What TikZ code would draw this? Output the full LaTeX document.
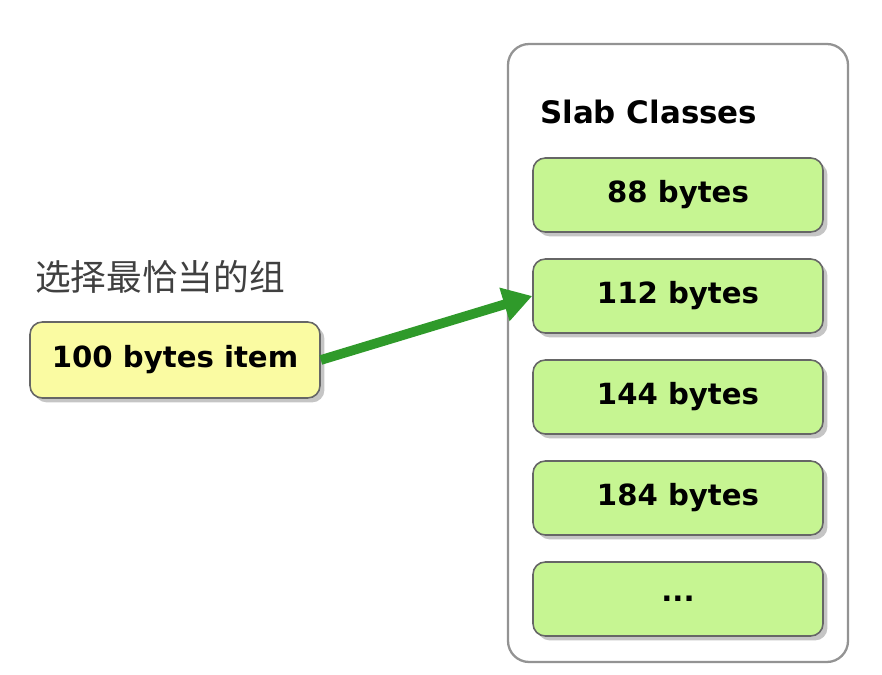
\documentclass[tikz,border=0pt]{standalone}
\usepackage{fontspec}
\setmainfont{DejaVu Sans}
\newfontfamily\cjk{Noto Sans CJK SC}
\usetikzlibrary{shadows,arrows.meta}
\definecolor{slabgreen}{HTML}{C6F592}
\definecolor{itemyellow}{HTML}{FAFBA2}
\definecolor{arrowgreen}{HTML}{2F9A2A}
\tikzset{
  slab/.style={draw=black!60, line width=0.9pt, rounded corners=7pt,
    fill=slabgreen, minimum width=5.8cm, minimum height=1.48cm,
    drop shadow={shadow xshift=2.5pt, shadow yshift=-2.5pt, fill=black!45},
    font=\fontsize{16.6}{20}\selectfont\bfseries},
  item/.style={slab, fill=itemyellow, minimum height=1.52cm}
}
\begin{document}
\begin{tikzpicture}[line join=round]
  \useasboundingbox (0,0) rectangle (17.64,13.48);
  % la caja de las clases
  \draw[gray!85, line width=1.3pt, rounded corners=12pt, fill=white] (10.16,0.24) rectangle (16.96,12.6);
  \node[anchor=west, font=\fontsize{17.6}{21}\selectfont\bfseries] (title) at (10.68,11.24) {Slab Classes};
  % las clases
  \foreach \nm/\txt/\y in {s88/88 bytes/9.58, s112/112 bytes/7.56, s144/144 bytes/5.54,
      s184/184 bytes/3.52} {
    \node[slab] (\nm) at (13.56,\y) {\txt};
  }
  \node[slab] (smore) at (13.56,1.50) {...};
  % el item
  \node[anchor=west, text=black!75, font=\cjk\fontsize{20.3}{24}\selectfont] (hint) at (0.58,7.94) {选择最恰当的组};
  \node[item] (item) at (3.5,6.28) {100 bytes item};
  % la flecha
  \draw[arrowgreen, line width=5.5pt, -{Triangle[length=0.58cm,width=0.66cm]}] (item.east) -- (s112.west);
\end{tikzpicture}
\end{document}
